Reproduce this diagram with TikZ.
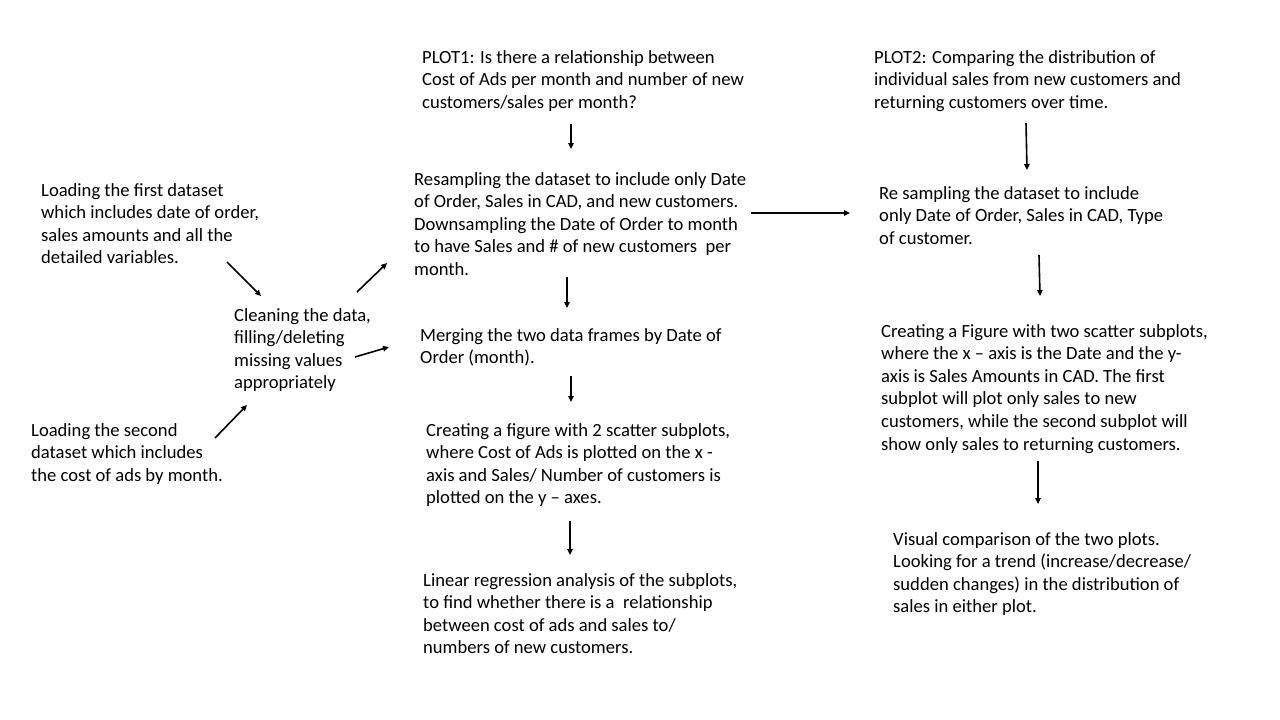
\documentclass[tikz,border=0pt]{standalone}
\usepackage{fontspec}
\setmainfont{Carlito}
\usetikzlibrary{arrows.meta}
\tikzset{
  txt/.style={anchor=north west,inner sep=0pt,align=left,font=\fontsize{18.6}{22.6}\selectfont},
  arr/.style={line width=1.6pt,-{Triangle[length=6pt,width=5.5pt]}}
}
\begin{document}
\begin{tikzpicture}[x=1pt,y=-1pt]
\useasboundingbox[fill=white] (0,0) rectangle (1280,720);
\node[txt] (first) at (41,183) {Loading the first dataset\\which includes date of order,\\sales amounts and all the\\detailed variables.};
\node[txt] (clean) at (234,308) {Cleaning the data,\\filling/deleting\\missing values\\appropriately};
\node[txt] (second) at (31,423) {Loading the second\\dataset which includes\\the cost of ads by month.};
\node[txt] (plot1) at (422,50) {PLOT1: Is there a relationship between\\Cost of Ads per month and number of new\\customers/sales per month?};
\node[txt] (resamp) at (414,172) {Resampling the dataset to include only Date\\of Order, Sales in CAD, and new customers.\\Downsampling the Date of Order to month\\to have Sales and \# of new customers~ per\\month.};
\node[txt] (merge) at (420,328) {Merging the two data frames by Date of\\Order (month).};
\node[txt] (fig1) at (426,423) {Creating a figure with 2 scatter subplots,\\where Cost of Ads is plotted on the x -\\axis and Sales/ Number of customers is\\plotted on the y – axes.};
\node[txt] (linreg) at (423,573) {Linear regression analysis of the subplots,\\to find whether there is a~ relationship\\between cost of ads and sales to/\\numbers of new customers.};
\node[txt] (plot2) at (874,50) {PLOT2: Comparing the distribution of\\individual sales from new customers and\\returning customers over time.};
\node[txt] (resamp2) at (879,186) {Re sampling the dataset to include\\only Date of Order, Sales in CAD, Type\\of customer.};
\node[txt] (fig2) at (881,324) {Creating a Figure with two scatter subplots,\\where the x – axis is the Date and the y-\\axis is Sales Amounts in CAD. The first\\subplot will plot only sales to new\\customers, while the second subplot will\\show only sales to returning customers.};
\node[txt] (visual) at (893,532) {Visual comparison of the two plots.\\Looking for a trend (increase/decrease/\\sudden changes) in the distribution of\\sales in either plot.};
% arrow end points
\coordinate (a1s) at (227,262); \coordinate (a1e) at (261,296);
\coordinate (a2s) at (215,438); \coordinate (a2e) at (247,405);
\coordinate (a3s) at (357,292); \coordinate (a3e) at (387,263);
\coordinate (a4s) at (355,357); \coordinate (a4e) at (389,347);
\coordinate (a5s) at (571,124); \coordinate (a5e) at (571,149);
\coordinate (a6s) at (567,277); \coordinate (a6e) at (567,308);
\coordinate (a7s) at (571,376); \coordinate (a7e) at (571,402);
\coordinate (a8s) at (570,521); \coordinate (a8e) at (570,555);
\coordinate (a9s) at (751,213); \coordinate (a9e) at (850,213);
\coordinate (a10s) at (1026,123); \coordinate (a10e) at (1027,170);
\coordinate (a11s) at (1039,255); \coordinate (a11e) at (1040,296);
\coordinate (a12s) at (1038,461); \coordinate (a12e) at (1038,504);
\draw[arr] (a1s) -- (a1e);
\draw[arr] (a2s) -- (a2e);
\draw[arr] (a3s) -- (a3e);
\draw[arr] (a4s) -- (a4e);
\draw[arr] (a5s) -- (a5e);
\draw[arr] (a6s) -- (a6e);
\draw[arr] (a7s) -- (a7e);
\draw[arr] (a8s) -- (a8e);
\draw[arr] (a9s) -- (a9e);
\draw[arr] (a10s) -- (a10e);
\draw[arr] (a11s) -- (a11e);
\draw[arr] (a12s) -- (a12e);
\end{tikzpicture}
\end{document}
